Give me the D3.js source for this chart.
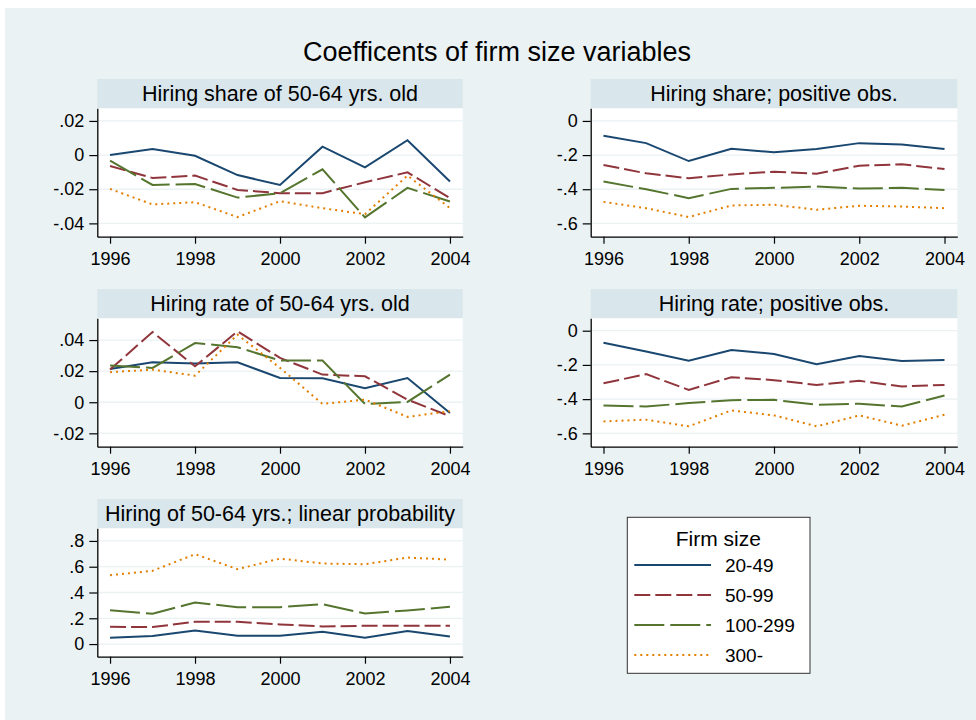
<!DOCTYPE html>
<html lang="en">
<head>
  <meta charset="UTF-8">
  <title>Coefficents of firm size variables</title>
  <style>
    body { margin: 0; background: #ffffff; }
    svg { display: block; font-family: "Liberation Sans", Arial, sans-serif; }
  </style>
</head>
<body>

<div id="chart"></div>

<script src="https://d3js.org/d3.v7.min.js"></script>
<script>
  // years on the x axis and the four firm size classes
  const YEARS = [1996, 1997, 1998, 1999, 2000, 2001, 2002, 2003, 2004];
  const YEAR_TICKS = [1996, 1998, 2000, 2002, 2004];
  const SIZES = ['20-49', '50-99', '100-299', '300-'];

  const TITLES = [
    'Hiring share of 50-64 yrs. old',
    'Hiring share; positive obs.',
    'Hiring rate of 50-64 yrs. old',
    'Hiring rate; positive obs.',
    'Hiring of 50-64 yrs.; linear probability'
  ];

  // one row per size class, in SIZES order
  const shareOld = [
    [0, .0035, -.0004, -.0117, -.0175, .0049, -.0072, .0087, -.0155],
    [-.0064, -.0134, -.012, -.0204, -.0223, -.0223, -.0159, -.0101, -.0252],
    [-.0033, -.0175, -.0169, -.0249, -.0223, -.0083, -.0365, -.0192, -.0272],
    [-.0198, -.0289, -.0276, -.0363, -.027, -.0311, -.0346, -.012, -.031]
  ];
  const sharePositive = [
    [-.087, -.130, -.235, -.163, -.183, -.165, -.130, -.138, -.165],
    [-.258, -.307, -.336, -.313, -.297, -.309, -.262, -.254, -.282],
    [-.355, -.400, -.452, -.398, -.392, -.384, -.396, -.392, -.404],
    [-.474, -.511, -.563, -.495, -.491, -.520, -.497, -.501, -.511]
  ];
  const rateOld = [
    [.0214, .0257, .0249, .0257, .0156, .0154, .009, .0156, -.0069],
    [.021, .0452, .0231, .0456, .0285, .0178, .0167, .0017, -.009],
    [.0236, .0221, .0381, .0354, .0268, .0268, -.0011, .0002, .0178],
    [.0193, .021, .0171, .0435, .0221, -.0011, .0017, -.0094, -.0058]
  ];
  const ratePositive = [
    [-.070, -.122, -.175, -.113, -.136, -.196, -.148, -.177, -.171],
    [-.307, -.254, -.346, -.272, -.289, -.317, -.293, -.326, -.317],
    [-.437, -.443, -.423, -.406, -.404, -.433, -.427, -.443, -.379],
    [-.530, -.520, -.559, -.466, -.495, -.559, -.495, -.555, -.491]
  ];
  const linearProb = [
    [.049, .062, .106, .065, .065, .095, .049, .101, .059],
    [.134, .132, .173, .173, .152, .137, .142, .142, .142],
    [.263, .235, .323, .286, .286, .310, .237, .261, .289],
    [.534, .568, .697, .581, .663, .625, .619, .671, .655]
  ];

  // y tick values of each panel
  const ticksShareOld = [.02, 0, -.02, -.04];
  const ticksSharePos = [0, -.2, -.4, -.6];
  const ticksRateOld = [.04, .02, 0, -.02];
  const ticksRatePos = [0, -.2, -.4, -.6];
  const ticksProb = [.8, .6, .4, .2, 0];

  const SERIES = [shareOld, sharePositive, rateOld, ratePositive, linearProb];
  const TICKS = [ticksShareOld, ticksSharePos, ticksRateOld, ticksRatePos, ticksProb];

  // Stata s2color look
  const BG = '#eaf2f3', BAR = '#d9e6eb';
  const COLORS = ['#1a476f', '#90353b', '#55752f', '#e37e00'];
  const DASHES = [null, '16 5', '30 6', '2 4'];

  const W = 976, H = 720;
  const colX = [97.3, 590.7], colW = [365.4, 366.6];
  const rowY = [79, 289, 499];
  const barH = 29.3, plotH = 128.4;
  // y range shown in each plot region (a little beyond the ticks)
  const yDomains = [[-.0478, .0274], [-.678, .074], [-.0286, .054], [-.678, .0725], [-.098, .898]];

  // Stata writes .02 not 0.02
  const fmt = v => v === 0 ? '0' : String(v).replace(/^(-?)0\./, '$1.');

  const svg = d3.select('#chart').append('svg')
    .attr('width', W)
    .attr('height', H);

  svg.append('rect')
    .attr('x', 5).attr('y', 8)
    .attr('width', W - 5).attr('height', H - 8)
    .attr('fill', BG);

  svg.append('text')
    .attr('x', 497).attr('y', 61)
    .attr('text-anchor', 'middle')
    .attr('font-size', 27)
    .text('Coefficents of firm size variables');

  SERIES.forEach(function (rows, i) {
    const col = i % 2, row = Math.floor(i / 2);
    const w = colW[col];
    const g = svg.append('g')
      .attr('transform', 'translate(' + colX[col] + ',' + rowY[row] + ')');

    // title bar
    g.append('rect')
      .attr('width', w).attr('height', barH)
      .attr('fill', BAR);
    g.append('text')
      .attr('x', w / 2).attr('y', 22)
      .attr('text-anchor', 'middle')
      .attr('font-size', 21.5)
      .text(TITLES[i]);

    const p = g.append('g').attr('transform', 'translate(0,' + barH + ')');
    p.append('rect')
      .attr('width', w).attr('height', plotH)
      .attr('fill', '#ffffff');

    const x = d3.scaleLinear()
      .domain([1995.7, 2004.3])
      .range([0, w]);
    const y = d3.scaleLinear()
      .domain(yDomains[i])
      .range([plotH, 0]);

    // gridlines
    p.selectAll('.grid')
      .data(TICKS[i])
      .enter()
      .append('line')
      .attr('x1', 0).attr('x2', w)
      .attr('y1', d => y(d)).attr('y2', d => y(d))
      .attr('stroke', BG)
      .attr('stroke-width', 1.3);

    const line = d3.line()
      .x((d, k) => x(YEARS[k]))
      .y(d => y(d));

    rows.forEach(function (vals, s) {
      p.append('path')
        .datum(vals)
        .attr('d', line)
        .attr('fill', 'none')
        .attr('stroke', COLORS[s])
        .attr('stroke-width', 2)
        .attr('stroke-dasharray', DASHES[s]);
    });

    const ya = p.append('g')
      .call(d3.axisLeft(y).tickValues(TICKS[i]).tickFormat(fmt)
        .tickSize(8).tickSizeOuter(0).tickPadding(5));
    const xa = p.append('g')
      .attr('transform', 'translate(0,' + plotH + ')')
      .call(d3.axisBottom(x).tickValues(YEAR_TICKS).tickFormat(d3.format('d'))
        .tickSize(7).tickSizeOuter(0).tickPadding(9));

    [ya, xa].forEach(function (a) {
      a.selectAll('text').attr('font-size', 18).attr('fill', '#000')
        .style('font-family', '"Liberation Sans", Arial, sans-serif');
      a.selectAll('line').attr('stroke', '#000').attr('stroke-width', 1.2);
      a.select('.domain').attr('stroke', '#000').attr('stroke-width', 1.3);
    });
  });

  // legend
  const lg = svg.append('g').attr('transform', 'translate(627.3,517.3)');
  lg.append('rect')
    .attr('width', 182.7).attr('height', 156)
    .attr('fill', '#ffffff')
    .attr('stroke', '#333')
    .attr('stroke-width', 1);
  lg.append('text')
    .attr('x', 91).attr('y', 28.7)
    .attr('text-anchor', 'middle')
    .attr('font-size', 21)
    .text('Firm size');

  const item = lg.selectAll('.item')
    .data(SIZES)
    .enter()
    .append('g')
    .attr('transform', (d, k) => 'translate(0,' + (47.7 + k * 30) + ')');
  item.append('line')
    .attr('x1', 7).attr('x2', 83.7)
    .attr('stroke', (d, k) => COLORS[k])
    .attr('stroke-width', 2)
    .attr('stroke-dasharray', (d, k) => DASHES[k]);
  item.append('text')
    .attr('x', 97.7).attr('y', 7.3)
    .attr('font-size', 19)
    .text(d => d);
</script>
</body>
</html>
